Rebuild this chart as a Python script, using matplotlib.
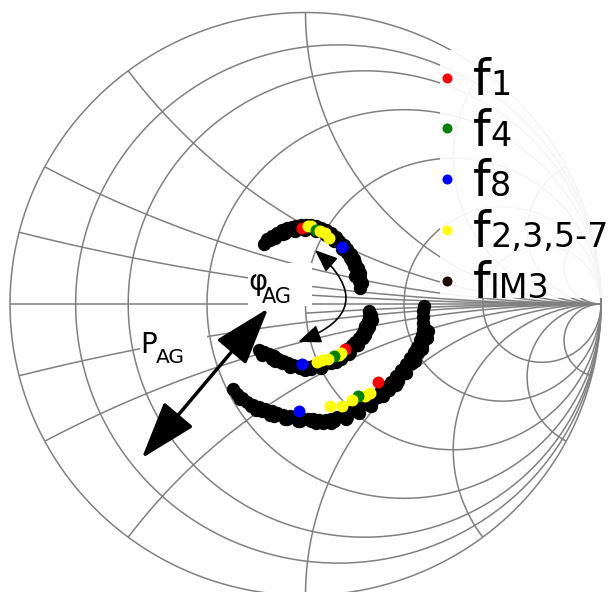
import numpy as np
import matplotlib.pyplot as plt
from matplotlib.lines import Line2D
from matplotlib.patches import FancyArrowPatch, Rectangle

plt.rcParams['mathtext.fontset'] = 'dejavusans'

# grid of the smith chart (normalised impedance values)
r_values = [0.125, 0.25, 0.5, 1, 2, 4]
x_values = [0.125, 0.25, 0.5, 1, 2, 4, 8]
x_fine = [0.0625]  # fine reactance arcs, only right of r = 1

# IM3 products at three drive levels, reflection coefficient (re, im)
im3_re_1 = [-0.142, -0.129, -0.115, -0.098, -0.081, -0.064, -0.047, -0.031, -0.014, 0.003,
            0.020, 0.037, 0.054, 0.071, 0.088, 0.102, 0.115, 0.129, 0.142, 0.153,
            0.163, 0.169, 0.176, 0.183, 0.186, 0.190, 0.186,
            -0.102, -0.068, -0.034, 0.000, 0.034, 0.068, 0.098, 0.125, 0.149, 0.163, 0.169,
            -0.119, -0.075, -0.041, -0.007, 0.027, 0.061, 0.092, 0.119, 0.142, 0.159, 0.173, 0.180]
im3_im_1 = [0.207, 0.224, 0.234, 0.244, 0.254, 0.261, 0.264, 0.268, 0.271, 0.271,
            0.271, 0.268, 0.261, 0.254, 0.244, 0.231, 0.217, 0.203, 0.190, 0.173,
            0.156, 0.139, 0.122, 0.105, 0.088, 0.071, 0.054,
            0.227, 0.244, 0.251, 0.254, 0.251, 0.237, 0.217, 0.190, 0.159, 0.129, 0.095,
            0.220, 0.241, 0.254, 0.261, 0.261, 0.251, 0.234, 0.207, 0.176, 0.146, 0.112, 0.078]
im3_re_2 = [-0.156, -0.142, -0.125, -0.108, -0.092, -0.075, -0.058, -0.041, -0.024, -0.007,
            0.010, 0.027, 0.044, 0.061, 0.078, 0.095, 0.112, 0.129, 0.142, 0.156,
            0.169, 0.180, 0.190, 0.197, 0.203, 0.210, 0.214, 0.214,
            -0.102, -0.051, 0.000, 0.051, 0.102, 0.146, 0.176, 0.200, 0.214, 0.224,
            -0.146, -0.115, -0.081, -0.047, -0.017, 0.017, 0.051, 0.085, 0.119, 0.149,
            0.173, 0.193, 0.207, 0.217, 0.220]
im3_im_2 = [-0.159, -0.166, -0.173, -0.180, -0.190, -0.197, -0.203, -0.210, -0.214, -0.217,
            -0.217, -0.214, -0.210, -0.203, -0.197, -0.190, -0.180, -0.169, -0.156, -0.142,
            -0.129, -0.115, -0.102, -0.088, -0.075, -0.058, -0.041, -0.024,
            -0.197, -0.217, -0.227, -0.220, -0.200, -0.173, -0.142, -0.108, -0.078, -0.054,
            -0.176, -0.190, -0.203, -0.214, -0.220, -0.224, -0.217, -0.203, -0.190, -0.166,
            -0.139, -0.115, -0.088, -0.061, -0.037]
im3_re_3 = [-0.244, -0.231, -0.214, -0.197, -0.176, -0.156, -0.136, -0.115, -0.095, -0.075,
            -0.054, -0.034, -0.014, 0.007, 0.027, 0.047, 0.068, 0.088, 0.108, 0.129,
            0.149, 0.169, 0.190, 0.210, 0.231, 0.251, 0.271, 0.288, 0.305, 0.322,
            0.339, 0.353, 0.366, 0.376, 0.386, 0.393, 0.397, 0.397, 0.397, 0.397, 0.400,
            -0.169, -0.119, -0.068, -0.017, 0.034, 0.085, 0.136, 0.180, 0.220, 0.261,
            0.305, 0.339, 0.369, 0.393, 0.410, 0.414,
            -0.220, -0.186, -0.146, -0.105, -0.064, -0.024, 0.017, 0.058, 0.098, 0.139,
            0.176, 0.214, 0.247, 0.281, 0.312, 0.336, 0.359, 0.380, 0.393, 0.403, 0.407]
im3_im_3 = [-0.292, -0.308, -0.322, -0.336, -0.346, -0.353, -0.359, -0.366, -0.373, -0.380,
            -0.383, -0.386, -0.390, -0.393, -0.393, -0.397, -0.397, -0.393, -0.386, -0.380,
            -0.369, -0.359, -0.346, -0.332, -0.319, -0.302, -0.285, -0.268, -0.247, -0.227,
            -0.207, -0.186, -0.166, -0.146, -0.125, -0.105, -0.085, -0.064, -0.044, -0.024, -0.007,
            -0.363, -0.380, -0.393, -0.403, -0.407, -0.407, -0.393, -0.373, -0.349, -0.315,
            -0.278, -0.237, -0.197, -0.156, -0.115, -0.092,
            -0.325, -0.349, -0.366, -0.383, -0.393, -0.400, -0.403, -0.407, -0.400, -0.386,
            -0.369, -0.346, -0.319, -0.295, -0.264, -0.237, -0.203, -0.169, -0.139, -0.115, -0.088]

# tones f1..f8 at the same three drive levels
tone_re_1 = [-0.011, 0.007, 0.017, 0.034, 0.049, 0.066, 0.080, 0.122]
tone_im_1 = [0.261, 0.268, 0.266, 0.254, 0.251, 0.242, 0.227, 0.194]
tone_re_2 = [0.134, 0.119, 0.112, 0.096, 0.075, 0.056, 0.039, -0.011]
tone_im_2 = [-0.154, -0.169, -0.175, -0.179, -0.188, -0.193, -0.198, -0.207]
tone_re_3 = [0.244, 0.217, 0.202, 0.176, 0.158, 0.124, 0.082, -0.022]
tone_im_3 = [-0.269, -0.305, -0.314, -0.314, -0.331, -0.349, -0.350, -0.368]
tone_colors = ['red', 'yellow', 'yellow', 'green', 'yellow', 'yellow', 'yellow', 'blue']

legend_subs = ['1', '4', '8', '2,3,5-7', 'IM3']
legend_colors = ['red', 'green', 'blue', 'yellow', '#1e0500']


def gamma(z):
    return (z - 1) / (z + 1)


fig = plt.figure(figsize=(6.08, 5.92), dpi=100)
ax = fig.add_axes([0, 0, 1, 1])
ax.set_xlim(-1.0338, 1.0237)
ax.set_ylim(-0.988, 1.0429)
ax.axis('off')

grid_kw = dict(color='#808080', lw=1.1, zorder=1, solid_capstyle='butt')
t_full = np.linspace(-np.pi / 2 + 1e-4, np.pi / 2 - 1e-4, 800)

# outer circle, real axis and resistance circles
for r in [0] + r_values:
    g = gamma(r + 1j * np.tan(t_full))
    ax.plot(g.real, g.imag, **grid_kw)
ax.plot([-1, 1], [0, 0], **grid_kw)

# reactance arcs
for x in x_values:
    t = np.linspace(0, np.pi / 2 - 1e-4, 600)
    for s in (1, -1):
        g = gamma(np.tan(t) + 1j * s * x)
        ax.plot(g.real, g.imag, **grid_kw)
for x in x_fine:
    t = np.linspace(np.arctan(1), np.pi / 2 - 1e-4, 400)
    for s in (1, -1):
        g = gamma(np.tan(t) + 1j * s * x)
        ax.plot(g.real, g.imag, **grid_kw)

# measured points
for re, im in [(im3_re_1, im3_im_1), (im3_re_2, im3_im_2), (im3_re_3, im3_im_3)]:
    ax.plot(re, im, 'o', color='black', ms=9.6, mew=0, zorder=3)
for re, im in [(tone_re_1, tone_im_1), (tone_re_2, tone_im_2), (tone_re_3, tone_im_3)]:
    for k in range(len(re)):
        ax.plot(re[k], im[k], 'o', color=tone_colors[k], ms=8.6, mew=0, zorder=4)

# label backgrounds hide the grid behind the annotations
for x0, y0, w, h in [(248, 263, 64, 43), (140, 325, 67, 41)]:
    ax.add_patch(Rectangle((x0 / 608, 1 - (y0 + h) / 592), w / 608, h / 592,
                           transform=ax.transAxes, facecolor='white', edgecolor='none',
                           zorder=2))
ax.text(-0.192, 0.048, 'φ', fontsize=21, ha='left', va='baseline', zorder=2.5)
ax.text(-0.149, 0.003, 'AG', fontsize=15, ha='left', va='baseline', zorder=2.5)
ax.text(-0.560, -0.168, 'P', fontsize=20, ha='left', va='baseline', zorder=2.5)
ax.text(-0.508, -0.202, 'AG', fontsize=14.5, ha='left', va='baseline', zorder=2.5)

big = FancyArrowPatch((-0.554, -0.529), (-0.126, -0.015),
                      arrowstyle='<|-|>,head_length=2.4,head_width=0.8', mutation_scale=15,
                      lw=2.5, color='black', shrinkA=0, shrinkB=0, zorder=5)
ax.add_patch(big)
curved = FancyArrowPatch((0.032, 0.185), (-0.025, -0.130),
                         connectionstyle='arc3,rad=-0.83',
                         arrowstyle='<|-|>,head_length=1.0,head_width=0.4', mutation_scale=14,
                         lw=1.2, color='black', shrinkA=0, shrinkB=0, zorder=5)
ax.add_patch(curved)

# legend: white panel over the chart, "f" labels with baseline subscripts
ax.add_patch(Rectangle((440 / 608, 1 - 298 / 592), 1 - 440 / 608, 248 / 592,
                       transform=ax.transAxes, facecolor='white', edgecolor='none',
                       alpha=0.92, zorder=6))
handles = [Line2D([], [], ls='none', marker='o', ms=7.2, mew=0, color=c) for c in legend_colors]
leg = ax.legend(handles, ['f'] * len(handles), loc='upper left',
                bbox_to_anchor=(442 / 608, 1 - 57 / 592), fontsize=36, frameon=False,
                borderpad=0, borderaxespad=0, handlelength=0.2, handletextpad=0.41,
                labelspacing=0.055)
leg.set_zorder(10)

fig.canvas.draw()
for txt, sub in zip(leg.get_texts(), legend_subs):
    bb = txt.get_window_extent()
    _, y_base = txt.get_transform().transform(txt.get_position())
    ax.annotate(sub, xy=(bb.x1, y_base), xycoords='figure pixels', fontsize=24,
                ha='left', va='baseline', zorder=11, annotation_clip=False)

fig.savefig('out.png', dpi=100)
